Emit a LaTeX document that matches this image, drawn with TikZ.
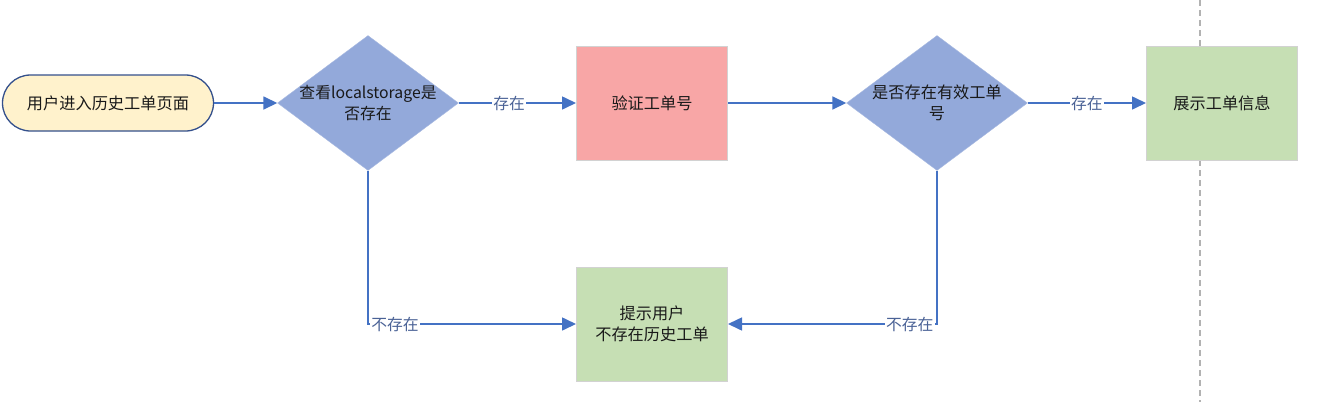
\documentclass[tikz,border=0pt]{standalone}
\usepackage{fontspec}
\setmainfont{Noto Sans CJK SC}
\usetikzlibrary{shapes.geometric,arrows.meta}
\definecolor{arrowblue}{HTML}{4472C4}
\definecolor{diafill}{HTML}{93A9DA}
\definecolor{termfill}{HTML}{FFF2CC}
\definecolor{termdraw}{HTML}{34508C}
\definecolor{pinkfill}{HTML}{F8A6A6}
\definecolor{greenfill}{HTML}{C6DFB4}
\definecolor{boxline}{HTML}{D2D2D2}
\definecolor{lbl}{HTML}{4A6296}
\begin{document}
\begin{tikzpicture}[x=1pt,y=-1pt,
  every node/.style={font=\fontsize{16.2}{21}\selectfont, text=black!90},
  term/.style={rounded corners=28pt, draw=termdraw, line width=1.3pt, fill=termfill, minimum width=211pt, minimum height=56pt, inner sep=0},
  dia/.style={diamond, fill=diafill, draw=diafill!80!white, minimum width=181pt, minimum height=135pt, inner sep=0},
  procbox/.style={rectangle, draw=boxline, line width=1pt, minimum width=151pt, minimum height=114pt, inner sep=0, align=center},
  conn/.style={draw=arrowblue, line width=1.6pt, -{Triangle[length=14pt,width=13pt]}},
  lab/.style={fill=white, inner sep=1pt, text=lbl, font=\fontsize{15.8}{18}\selectfont}
]
\useasboundingbox (0,0) rectangle (1341,402);
\draw[gray!60, line width=1.2pt, dash pattern=on 6pt off 4pt] (1200,0) -- (1200,402);
\node[term] (start) at (108,103) {用户进入历史工单页面};
\node[dia] (d1) at (368,103) {};
\node[align=center, font=\fontsize{15.8}{21}\selectfont] at (d1) {查看localstorage是\\否存在};
\node[procbox, fill=pinkfill] (b1) at (652,103) {验证工单号};
\node[dia] (d2) at (937,103) {};
\node[align=center] at (d2) {是否存在有效工单\\号};
\node[procbox, fill=greenfill] (b2) at (1222,103) {展示工单信息};
\node[procbox, fill=greenfill] (b3) at (652,324) {提示用户\\不存在历史工单};
\draw[conn] (start.east) -- (d1.west);
\draw[conn] (d1.east) -- node[lab, pos=0.43] {存在} (b1.west);
\draw[conn] (b1.east) -- (d2.west);
\draw[conn] (d2.east) -- node[lab] {存在} (b2.west);
\draw[conn] (d1.south) |- node[lab, pos=0.565] {不存在} (b3.west);
\draw[conn] (d2.south) |- node[lab, pos=0.565] {不存在} (b3.east);
\end{tikzpicture}
\end{document}
